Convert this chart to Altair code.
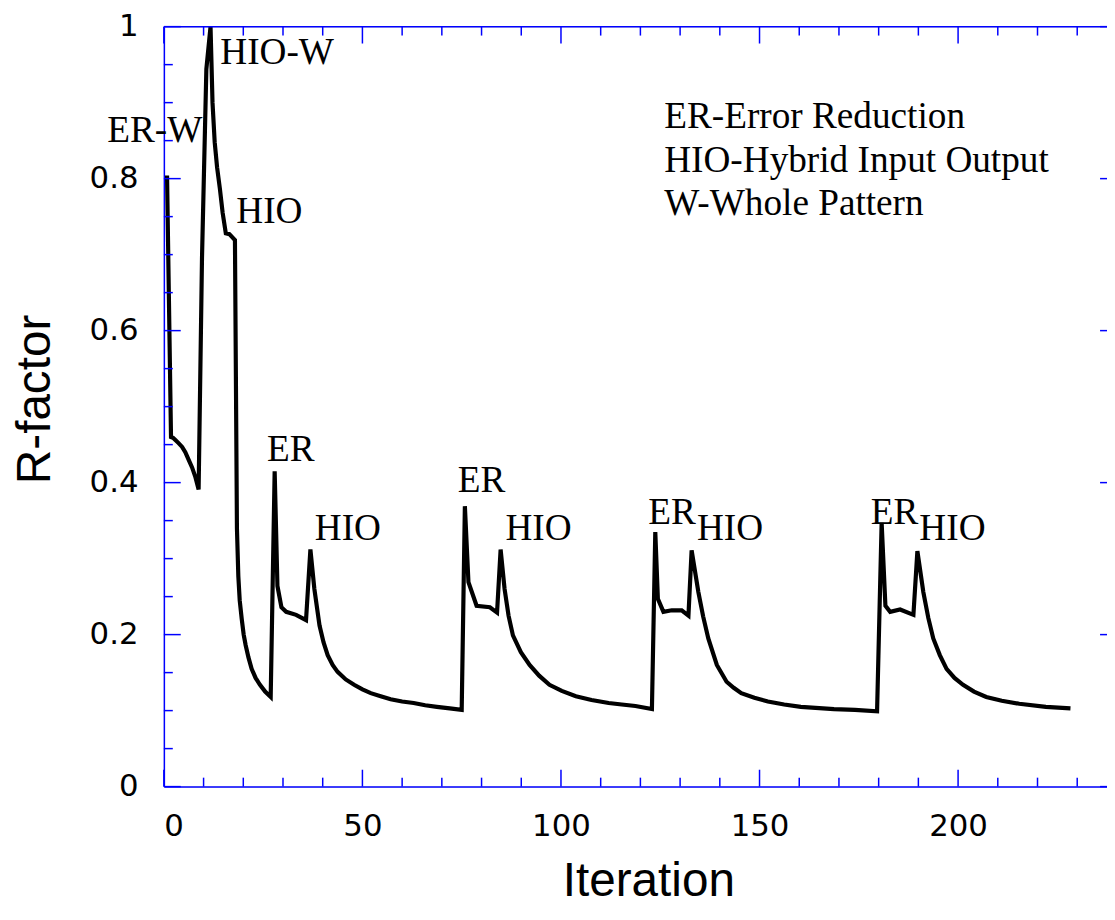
import altair as alt
import pandas as pd

# ---- data ----
iteration = [0.8, 1.8, 2.3, 2.9, 3.7, 4.6, 5.4, 6.25, 7.1, 7.9, 8.75,
             9.6, 10.7, 11.75, 12.25, 12.8, 13.4, 14.1, 14.8, 15.6, 16.5, 17.9,
             18.4, 18.75, 19.1, 19.6, 20.1, 20.6, 21.3, 22.1, 23.1, 24.2, 25.5, 26.9,
             27.9, 28.6, 29.6, 30.8, 33.3, 35.8,
             36.9, 37.9, 39.2, 40.2, 41.25, 42.5, 43.75, 45.8, 47.9, 50.0, 52.1, 54.6, 57.1,
             60.0, 62.9, 65.8, 68.75, 72.0, 75.0,
             75.8, 76.7, 78.75, 82.1, 83.9,
             84.8, 85.8, 86.8, 87.9, 89.9, 92.1, 94.5, 97.1, 100.2, 103.75, 107.7, 112.0,
             115.3, 118.75, 122.9,
             123.75, 124.4, 125.8, 127.9, 130.4, 132.1,
             132.9, 134.6, 135.8, 137.1, 139.25, 141.7, 143.5, 145.4, 148.7, 152.1, 156.2,
             160.4, 168.75, 174.0, 179.6,
             180.75, 181.7, 182.9, 185.4, 188.75,
             189.75, 191.25, 192.5, 193.75, 195.4, 197.1, 199.1, 201.25, 204.0, 207.1, 211.0,
             215.4, 222.1, 228.3]
r_factor = [0.804, 0.460, 0.459, 0.456, 0.452, 0.447, 0.440, 0.430, 0.420, 0.408, 0.391,
            0.695, 0.944, 1.0, 0.90, 0.848, 0.815, 0.787, 0.755, 0.728, 0.727, 0.719,
            0.340, 0.277, 0.245, 0.221, 0.200, 0.186, 0.170, 0.155, 0.143, 0.134, 0.125, 0.118,
            0.415, 0.264, 0.236, 0.230, 0.226, 0.219,
            0.312, 0.260, 0.212, 0.190, 0.173, 0.160, 0.151, 0.141, 0.134, 0.128, 0.123, 0.119, 0.115,
            0.112, 0.110, 0.107, 0.105, 0.103, 0.101,
            0.369, 0.269, 0.238, 0.236, 0.229,
            0.312, 0.260, 0.225, 0.199, 0.177, 0.160, 0.146, 0.134, 0.126, 0.119, 0.114, 0.110,
            0.108, 0.106, 0.102,
            0.335, 0.247, 0.230, 0.232, 0.232, 0.225,
            0.311, 0.256, 0.224, 0.195, 0.160, 0.138, 0.130, 0.123, 0.117, 0.112, 0.108,
            0.105, 0.102, 0.101, 0.099,
            0.347, 0.238, 0.230, 0.233, 0.226,
            0.310, 0.256, 0.222, 0.195, 0.173, 0.155, 0.143, 0.134, 0.125, 0.118, 0.113,
            0.109, 0.105, 0.103]

label_text = ["ER-W", "HIO-W", "HIO", "ER", "HIO", "ER", "HIO", "ER", "HIO", "ER", "HIO"]
label_x = [-14.25, 14.2, 18.25, 26.0, 38.0, 74.0, 86.0, 122.0, 134.25, 178.0, 190.25]
label_y = [0.848, 0.951, 0.742, 0.429, 0.324, 0.387, 0.325, 0.346, 0.324, 0.346, 0.325]

legend_text = ["ER-Error Reduction", "HIO-Hybrid Input Output", "W-Whole Pattern"]
legend_x = [126.0, 126.0, 126.0]
legend_y = [0.867, 0.809, 0.752]

x_major = [0, 50, 100, 150, 200]
x_minor = [10, 20, 30, 40, 60, 70, 80, 90, 110, 120, 130, 140, 160, 170, 180, 190, 210, 220, 230]
y_major = [0, 0.2, 0.4, 0.6, 0.8, 1.0]
y_minor = [0.05, 0.1, 0.15, 0.25, 0.3, 0.35, 0.45, 0.5, 0.55, 0.65, 0.7, 0.75, 0.85, 0.9, 0.95]

# ---- layout / style ----
W, H = 950, 765.5
BLUE = "#0000ff"
MAJ, MIN = 17, 9

xs = alt.Scale(domain=[0, 240], range=[0, 960], nice=False, zero=False)
ys = alt.Scale(domain=[0, 1], nice=False)

x_axis = alt.Axis(values=x_major, ticks=False, grid=False, domainColor=BLUE, domainWidth=1.5,
                  labelFont="DejaVu Sans", labelFontSize=31, labelColor="black",
                  labelPadding=25, labelBaseline="top",
                  titleFont="Liberation Sans", titleFontSize=48, titleFontWeight="normal",
                  titleColor="black", titleX=488, titleY=110, titleBaseline="alphabetic",
                  titleAlign="center")
y_axis = alt.Axis(values=y_major, ticks=False, grid=False, domainColor=BLUE, domainWidth=1.5,
                  labelFont="DejaVu Sans", labelFontSize=31, labelColor="black",
                  labelPadding=26,
                  labelExpr="datum.value == 0 ? '0' : datum.value == 1 ? '1' : format(datum.value, '.1f')",
                  titleFont="Liberation Sans", titleFontSize=48, titleFontWeight="normal",
                  titleColor="black", titleAngle=270, titleX=-115, titleY=375,
                  titleBaseline="alphabetic", titleAlign="center")


def X(field="it"):
    return alt.X(f"{field}:Q", scale=xs, title="Iteration", axis=x_axis)


def Y(field="r"):
    return alt.Y(f"{field}:Q", scale=ys, title="R-factor", axis=y_axis)


df = pd.DataFrame({"it": iteration, "r": r_factor, "idx": range(len(iteration))})
lab = pd.DataFrame({"t": label_text, "it": label_x, "r": label_y})
leg = pd.DataFrame({"t": legend_text, "it": legend_x, "r": legend_y})

line = alt.Chart(df).mark_line(color="black", strokeWidth=4.2, clip=True, strokeJoin="miter").encode(
    x=X(), y=Y(), order="idx:Q")


def vrules(vals, top, length):
    d = pd.DataFrame({"it": vals})
    y0 = 0 if top else H
    y1 = length if top else H - length
    return alt.Chart(d).mark_rule(color=BLUE, strokeWidth=1.5).encode(
        x=X(), y=alt.value(y0), y2=alt.value(y1))


def hrules(vals, right, length):
    d = pd.DataFrame({"r": vals})
    x0 = 960 if right else 0
    x1 = 960 - length if right else length
    return alt.Chart(d).mark_rule(color=BLUE, strokeWidth=1.5).encode(
        y=Y(), x=alt.value(x0), x2=alt.value(x1))


top_frame = alt.Chart(pd.DataFrame({"v": [0]})).mark_rule(color=BLUE, strokeWidth=1.5).encode(
    y=alt.value(0), x=alt.value(0), x2=alt.value(960))

texts = alt.Chart(lab).mark_text(align="left", baseline="alphabetic", font="Liberation Serif",
                                 fontSize=37.5, color="black").encode(x=X(), y=Y(), text="t:N")
legend = alt.Chart(leg).mark_text(align="left", baseline="alphabetic", font="Liberation Serif",
                                  fontSize=37.5, color="black").encode(x=X(), y=Y(), text="t:N")

chart = alt.layer(
    line,
    vrules(x_major, False, MAJ), vrules(x_minor, False, MIN),
    vrules(x_major, True, MAJ), vrules(x_minor, True, MIN),
    hrules(y_major, False, MAJ), hrules(y_minor, False, MIN),
    hrules(y_major, True, MAJ), hrules(y_minor, True, MIN),
    top_frame, texts, legend,
).properties(
    width=W, height=H,
    autosize=alt.AutoSizeParams(type="none"),
    padding={"left": 157, "top": 15.5, "right": 0, "bottom": 118},
).configure_view(strokeWidth=0).configure(background="white")

chart.save("out.html", embed_options={"renderer": "svg", "actions": False})
